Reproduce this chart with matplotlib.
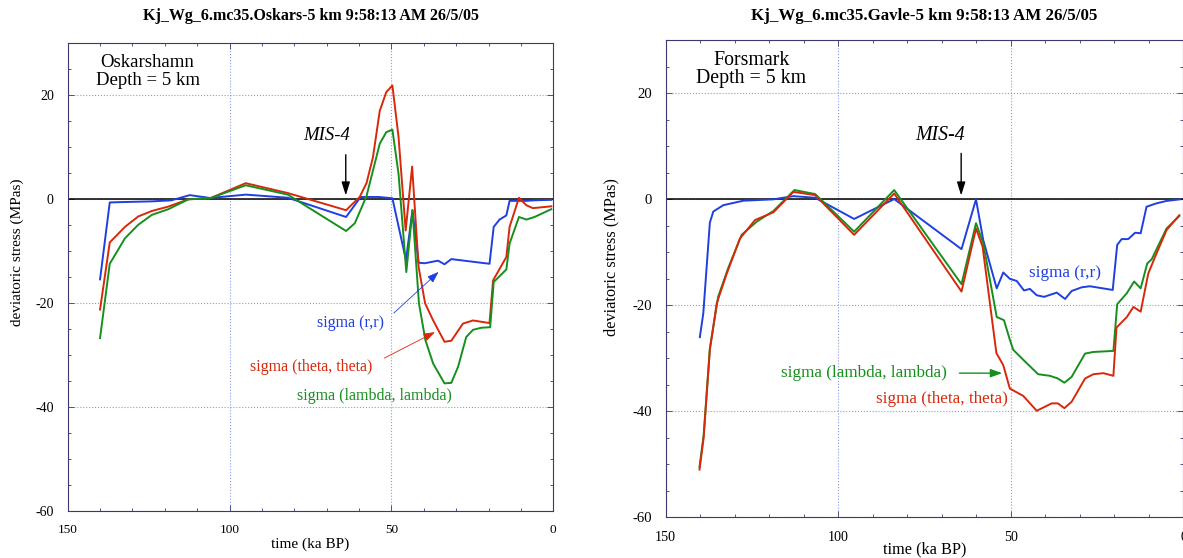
import matplotlib
matplotlib.use("Agg")
import matplotlib.pyplot as plt
from matplotlib.ticker import MultipleLocator

plt.rcParams['font.family'] = ['Liberation Serif', 'DejaVu Serif']
plt.rcParams['axes.unicode_minus'] = False

# ---------------- data: Oskarshamn (left) ----------------
osk_t_rr = [140, 137, 131, 124, 118, 112.3, 106, 95, 82, 64, 59.5, 54, 49.7, 45.5, 43.5,
            41.6, 39.7, 35.6, 33.6, 31.5, 19.7, 18.4, 16.6, 14.5, 13.5, 10.6, 8.3, 6, 0.6]
osk_rr = [-15.4, -0.6, -0.5, -0.4, -0.2, 0.8, 0.25, 0.9, 0.3, -3.4, 0.45, 0.45, 0.2, -11.7, -2.1,
          -12.2, -12.3, -11.8, -12.5, -11.5, -12.4, -5.3, -3.9, -3.1, -0.3, -0.3, -0.3, -0.2, -0.1]

osk_t_tt = [140, 137, 132.3, 128.2, 124, 118.9, 112.7, 106, 95, 82, 64, 59.8, 57.7, 55.7, 53.6,
            51.6, 49.7, 47.8, 45.6, 43.6, 41.6, 39.6, 37.1, 33.6, 31.5, 27.9, 24.8, 19.7, 18.6,
            14.5, 13.5, 10.6, 8.3, 6.3, 0.6]
osk_tt = [-21.2, -8.3, -5.3, -3.3, -2.25, -1.4, 0.0, 0.2, 3.1, 1.2, -2.1, 0.45, 3.1, 8.1, 17.0,
          20.6, 21.9, 12.0, -6.0, 6.3, -13.0, -20.0, -23.3, -27.4, -27.2, -23.9, -23.3, -23.8, -15.6,
          -11.1, -5.3, 0.3, -1.15, -1.7, -1.35]

osk_t_ll = [140, 137, 132.3, 128.2, 124, 118.9, 112.7, 106, 95, 82, 64, 61.3, 57.7, 53.6, 51.6,
            49.7, 47.8, 45.4, 43.5, 41.5, 39.5, 37.1, 33.6, 31.5, 29.4, 26.9, 24.8, 22.2, 19.5,
            18.4, 14.5, 13.5, 10.6, 8.3, 5.8, 0.6]
osk_ll = [-26.7, -12.4, -7.5, -4.9, -3.0, -1.9, 0.0, 0.2, 2.7, 0.9, -6.1, -4.6, 0.6, 10.7, 12.9,
          13.4, 4.9, -14.0, -2.1, -20.0, -27.1, -31.6, -35.4, -35.3, -32.2, -26.5, -25.1, -24.7, -24.6,
          -15.9, -13.5, -8.5, -3.4, -3.9, -3.4, -1.9]

# ---------------- data: Forsmark (right) ----------------
frs_t_rr = [140.1, 139.1, 137.2, 136.2, 133.3, 127.5, 118.8, 113.0, 106.7, 95.4, 83.8, 64.3, 60.1,
            58.0, 54.1, 52.2, 50.3, 48.3, 46.2, 44.5, 42.5, 40.4, 36.7, 34.3, 32.4, 29.5, 27.1,
            20.5, 19.2, 17.9, 16.0, 14.0, 12.4, 10.7, 7.8, 4.9, 1.0]
frs_rr = [-26.0, -21.5, -4.4, -2.3, -1.1, -0.26, 0.0, 0.6, 0.3, -3.7, 0.05, -9.4, 0.0,
          -7.7, -16.8, -13.8, -15.0, -15.4, -17.2, -16.9, -18.1, -18.4, -17.6, -18.8, -17.3, -16.6, -16.4,
          -17.1, -8.6, -7.5, -7.5, -6.3, -6.4, -1.4, -0.75, -0.3, 0.0]

frs_t_tt = [140.2, 139.0, 137.2, 135.2, 132.3, 128.5, 124.1, 118.8, 113.0, 106.7, 95.4, 83.8, 64.3,
            60.1, 58.2, 54.2, 52.2, 50.3, 46.4, 42.5, 38.2, 36.4, 34.5, 32.4, 28.5, 26.1, 23.2,
            20.3, 19.4, 16.4, 14.5, 12.4, 10.2, 7.8, 4.9, 1.2]
frs_tt = [-51.0, -45.0, -28.4, -19.6, -14.0, -7.4, -3.9, -2.45, 1.4, 0.8, -6.7, 1.1, -17.4,
          -5.5, -8.9, -29.0, -31.3, -35.7, -37.1, -39.9, -38.5, -38.5, -39.4, -38.2, -33.8, -33.0, -32.8,
          -33.3, -24.2, -22.2, -20.3, -21.2, -14.0, -10.2, -5.8, -3.0]

frs_t_ll = [140.2, 139.0, 137.2, 134.8, 131.9, 128.0, 123.6, 118.8, 112.7, 106.7, 95.4, 83.8, 64.3,
            60.1, 58.0, 54.1, 52.0, 50.3, 49.3, 45.9, 42.1, 38.7, 36.4, 34.5, 32.4, 28.5, 26.1,
            20.3, 19.2, 16.4, 14.3, 12.4, 10.5, 9.2, 4.9, 1.2]
frs_ll = [-50.5, -44.5, -28.1, -18.4, -13.0, -6.7, -4.2, -2.2, 1.75, 1.0, -6.1, 1.75, -16.0,
          -4.5, -8.3, -22.2, -22.8, -26.5, -28.4, -30.6, -33.0, -33.3, -33.8, -34.6, -33.5, -29.1, -28.8,
          -28.6, -19.8, -17.7, -15.5, -16.8, -12.1, -11.3, -5.5, -3.15]

titles = ["Kj_Wg_6.mc35.Oskars-5 km 9:58:13 AM 26/5/05",
          "Kj_Wg_6.mc35.Gavle-5 km 9:58:13 AM 26/5/05"]
sites = ["Oskarshamn", "Forsmark"]
depth_label = "Depth = 5 km"
xlabel = "time (ka BP)"
ylabel = "deviatoric stress (MPas)"

BLUE = '#1f3fe0'
RED = '#d8280c'
GREEN = '#16901c'
SPINE = '#3a3a70'
GRID = '#8a9ae8'

fig = plt.figure(figsize=(11.83, 5.58), dpi=100)
axL = fig.add_axes([0.0572, 0.0837, 0.4105, 0.8387])
axR = fig.add_axes([0.5627, 0.0729, 0.4377, 0.8548])


def style(ax, s):
    ax.set_xlim(150, 0)
    ax.set_ylim(-60, 30)
    ax.xaxis.set_major_locator(MultipleLocator(50))
    ax.xaxis.set_minor_locator(MultipleLocator(10))
    ax.yaxis.set_major_locator(MultipleLocator(20))
    ax.yaxis.set_minor_locator(MultipleLocator(5))
    ax.tick_params(which='both', direction='in', top=True, right=True, colors=SPINE,
                   labelcolor='black', width=0.6)
    ax.tick_params(which='major', length=4)
    ax.tick_params(which='minor', length=2.5)
    ax.tick_params(axis='x', labelsize=9.5 * s, pad=9.5)
    ax.tick_params(axis='y', labelsize=10 * s, pad=10)
    for sp in ax.spines.values():
        sp.set_color(SPINE)
        sp.set_linewidth(0.8)
    ax.grid(True, which='major', linestyle=':', color=GRID, linewidth=0.8)
    ax.axhline(0, color='black', linewidth=1.1, zorder=2)


for ax, s in ((axL, 1.0), (axR, 1.06)):
    style(ax, s)

lw = 1.4
axL.plot(osk_t_rr, osk_rr, color=BLUE, lw=lw, zorder=3)
axL.plot(osk_t_tt, osk_tt, color=RED, lw=lw, zorder=3)
axL.plot(osk_t_ll, osk_ll, color=GREEN, lw=lw, zorder=3)

axR.plot(frs_t_rr, frs_rr, color=BLUE, lw=lw, zorder=3)
axR.plot(frs_t_ll, frs_ll, color=GREEN, lw=lw, zorder=3)
axR.plot(frs_t_tt, frs_tt, color=RED, lw=lw, zorder=3)

# titles
fig.text(0.2625, 0.971, titles[0], ha='center', va='center', fontsize=11.5, fontweight='bold')
fig.text(0.7815, 0.971, titles[1], ha='center', va='center', fontsize=12.2, fontweight='bold')

# axis labels
axL.set_xlabel(xlabel, fontsize=11)
axL.xaxis.set_label_coords(0.5, -0.056)
axL.set_ylabel(ylabel, fontsize=11)
axL.yaxis.set_label_coords(-0.09, 0.553)
axR.set_xlabel(xlabel, fontsize=11.7)
axR.xaxis.set_label_coords(0.5, -0.05)
axR.set_ylabel(ylabel, fontsize=11.7)
axR.yaxis.set_label_coords(-0.089, 0.546)

# site labels
axL.text(125.3, 26.3, sites[0], ha='center', va='center', fontsize=13.5)
axL.text(125.3, 22.8, depth_label, ha='center', va='center', fontsize=13.5)
axR.text(125.2, 26.2, sites[1], ha='center', va='center', fontsize=14.3)
axR.text(125.2, 22.8, depth_label, ha='center', va='center', fontsize=14.3)

# MIS-4
axL.text(70.1, 12.2, "MIS-4", ha='center', va='center', fontsize=13.5, style='italic')
axL.annotate("", xy=(64.1, 0.2), xytext=(64.1, 9.1),
             arrowprops=dict(arrowstyle='-|>,head_length=0.8,head_width=0.25', color='black', lw=1.0))
axR.text(70.5, 12.1, "MIS-4", ha='center', va='center', fontsize=14.3, style='italic')
axR.annotate("", xy=(64.4, 0.2), xytext=(64.4, 9.2),
             arrowprops=dict(arrowstyle='-|>,head_length=0.8,head_width=0.25', color='black', lw=1.0))

# series labels, left
axL.text(62.7, -23.7, "sigma (r,r)", ha='center', va='center', fontsize=11.5, color=BLUE)
axL.annotate("", xy=(34.8, -13.6), xytext=(49.9, -22.25),
             arrowprops=dict(arrowstyle='-|>,head_length=0.7,head_width=0.25', color=BLUE, lw=0.6))
axL.text(74.8, -32.2, "sigma (theta, theta)", ha='center', va='center', fontsize=11.5, color=RED)
axL.annotate("", xy=(35.8, -25.3), xytext=(53.0, -30.8),
             arrowprops=dict(arrowstyle='-|>,head_length=0.7,head_width=0.25', color=RED, lw=0.6))
axL.text(55.3, -37.8, "sigma (lambda, lambda)", ha='center', va='center', fontsize=11.5, color=GREEN)

# series labels, right
axR.text(34.2, -13.9, "sigma (r,r)", ha='center', va='center', fontsize=12.3, color=BLUE)
axR.text(92.6, -32.8, "sigma (lambda, lambda)", ha='center', va='center', fontsize=12.3, color=GREEN)
axR.annotate("", xy=(51.7, -32.8), xytext=(65.7, -32.8),
             arrowprops=dict(arrowstyle='-|>,head_length=0.7,head_width=0.25', color=GREEN, lw=1.0))
axR.text(70.0, -37.7, "sigma (theta, theta)", ha='center', va='center', fontsize=12.3, color=RED)

fig.savefig("out.png", dpi=100)
